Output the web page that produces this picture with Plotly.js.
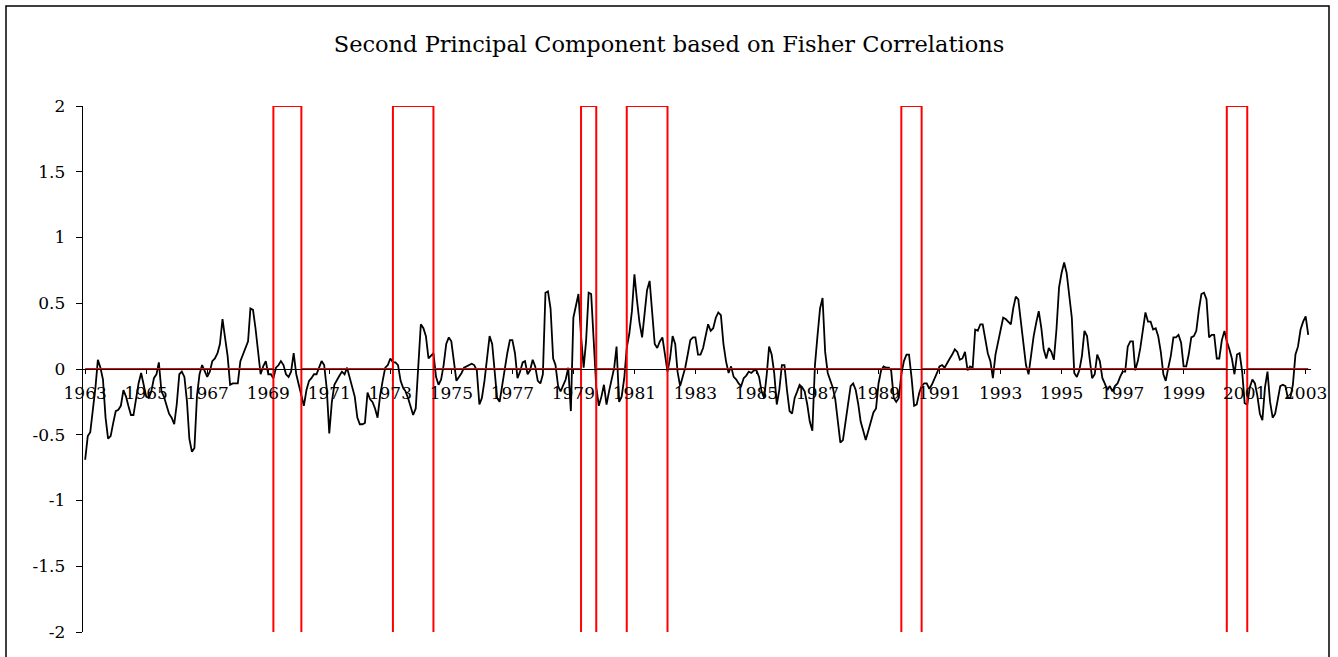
<!DOCTYPE html>
<html>
<head>
<meta charset="utf-8">
<script src="https://cdn.plot.ly/plotly-3.0.1.min.js"></script>
<style>
  html, body { margin: 0; padding: 0; background: #ffffff; }
  #chart { width: 1338px; height: 657px; }
</style>
</head>
<body>
<div id="chart"></div>
<script>
// ---------- DATA ----------
const chartTitle = "Second Principal Component based on Fisher Correlations";
const firstMonth = "1963-10";   // first monthly observation

// Second principal component, monthly values
const pc2_1963_1971 = [
  -0.69,-0.51,-0.48,-0.31,-0.14,0.07,0.01,-0.08,-0.37,-0.53,-0.51,-0.41,
  -0.32,-0.31,-0.28,-0.16,-0.21,-0.28,-0.35,-0.35,-0.22,-0.11,-0.03,-0.12,
  -0.21,-0.22,-0.17,-0.07,-0.04,0.05,-0.17,-0.21,-0.27,-0.34,-0.37,-0.42,
  -0.27,-0.04,-0.02,-0.06,-0.25,-0.53,-0.63,-0.6,-0.2,-0.04,0.03,-0.02,
  -0.06,-0.02,0.06,0.08,0.12,0.19,0.38,0.24,0.1,-0.12,-0.11,-0.11,
  -0.11,0.06,0.11,0.16,0.21,0.46,0.45,0.31,0.15,-0.04,0.02,0.06,
  -0.04,-0.04,-0.07,0.01,0.03,0.06,0.03,-0.04,-0.06,-0.02,0.12,-0.04,
  -0.12,-0.2,-0.28,-0.16,-0.09,-0.07,-0.04,-0.04,0.01,0.06,0.03,-0.15
];
const pc2_1971_1979 = [
  -0.49,-0.25,-0.12,-0.08,-0.05,-0.02,-0.04,0.01,-0.06,-0.14,-0.21,-0.37,
  -0.42,-0.42,-0.41,-0.18,-0.23,-0.25,-0.3,-0.37,-0.2,-0.09,0.01,0.03,
  0.08,0.05,0.05,0.03,-0.09,-0.14,-0.17,-0.22,-0.28,-0.35,-0.3,0.06,
  0.34,0.31,0.25,0.08,0.1,0.12,-0.06,-0.12,-0.08,0.03,0.19,0.24,
  0.21,0.06,-0.09,-0.06,-0.03,0.01,0.02,0.03,0.04,0.03,-0.01,-0.27,
  -0.22,-0.09,0.1,0.25,0.19,-0.02,-0.22,-0.25,-0.12,0.02,0.12,0.22,
  0.22,0.12,-0.07,-0.02,0.05,0.06,-0.04,-0.01,0.07,0.02,-0.09,-0.11,
  -0.04,0.58,0.59,0.46,0.08,0.03,-0.13,-0.17,-0.13,-0.08,0.01,-0.32
];
const pc2_1979_1987 = [
  0.39,0.48,0.57,0.25,0.01,0.21,0.58,0.57,0.24,-0.14,-0.28,-0.21,
  -0.12,-0.27,-0.17,-0.08,0.01,0.17,-0.25,-0.21,-0.07,0.16,0.27,0.44,
  0.72,0.52,0.35,0.24,0.41,0.6,0.67,0.41,0.19,0.16,0.21,0.24,
  0.11,-0.02,0.08,0.25,0.19,-0.02,-0.13,-0.07,0.01,0.11,0.22,0.24,
  0.24,0.11,0.11,0.16,0.26,0.34,0.29,0.31,0.39,0.43,0.41,0.19,
  0.06,-0.03,0.02,-0.06,-0.08,-0.11,-0.13,-0.07,-0.05,-0.02,-0.03,-0.01,
  -0.01,-0.06,-0.17,-0.22,-0.04,0.17,0.11,-0.03,-0.27,-0.16,0.03,0.03,
  -0.16,-0.32,-0.34,-0.22,-0.17,-0.12,-0.14,-0.17,-0.27,-0.4,-0.47,0.03
];
const pc2_1987_1995 = [
  0.25,0.46,0.54,0.13,-0.03,-0.08,-0.14,-0.23,-0.4,-0.56,-0.54,-0.4,
  -0.23,-0.13,-0.11,-0.16,-0.27,-0.4,-0.47,-0.54,-0.47,-0.4,-0.33,-0.3,
  -0.11,-0.01,0.02,0.01,0.01,-0.01,-0.22,-0.25,-0.22,-0.04,0.06,0.11,
  0.11,-0.07,-0.28,-0.27,-0.18,-0.13,-0.11,-0.11,-0.15,-0.12,-0.08,-0.03,
  0.02,0.03,0.01,0.05,0.08,0.11,0.15,0.13,0.07,0.08,0.13,-0.01,
  0.02,0.01,0.3,0.29,0.34,0.34,0.21,0.12,0.06,-0.07,0.11,0.21,
  0.31,0.39,0.38,0.36,0.34,0.46,0.55,0.53,0.35,0.21,0.03,-0.04,
  0.12,0.25,0.35,0.44,0.31,0.15,0.08,0.16,0.13,0.07,0.3,0.62
];
const pc2_1995_2003 = [
  0.73,0.81,0.73,0.58,0.39,-0.03,-0.06,-0.01,0.1,0.29,0.25,0.08,
  -0.07,-0.04,0.11,0.06,-0.07,-0.11,-0.16,-0.13,-0.17,-0.13,-0.11,-0.06,
  -0.02,-0.02,0.17,0.21,0.21,-0.01,0.06,0.16,0.31,0.43,0.36,0.36,
  0.3,0.31,0.25,0.13,-0.04,-0.09,0.01,0.1,0.24,0.24,0.26,0.2,
  0.02,0.02,0.11,0.24,0.25,0.29,0.45,0.57,0.58,0.53,0.24,0.26,
  0.26,0.08,0.08,0.22,0.29,0.21,0.15,0.08,-0.04,0.11,0.12,-0.02,
  -0.26,-0.27,-0.14,-0.08,-0.11,-0.2,-0.34,-0.39,-0.14,-0.02,-0.25,-0.37,
  -0.34,-0.23,-0.13,-0.12,-0.13,-0.22,-0.22,-0.12,0.11,0.17,0.3,0.36,
  0.4,0.26
];

// NBER recession indicator: first and last month of each recession
const recessionStart = ["1969-12","1973-11","1980-01","1981-07","1990-07","2001-03"];
const recessionEnd   = ["1970-11","1975-03","1980-07","1982-11","1991-03","2001-11"];
const recessionHigh = 2, recessionLow = -2, baseline = 0;

// y tick values
const yTicks = [-2,-1.5,-1,-0.5,0,0.5,1,1.5,2];

// ---------- BUILD ----------
const pc2 = [].concat(pc2_1963_1971, pc2_1971_1979, pc2_1979_1987, pc2_1987_1995, pc2_1995_2003);
const y0 = parseInt(firstMonth.slice(0,4)), mo0 = parseInt(firstMonth.slice(5,7)) - 1;
function monthStr(i){
  const t = y0*12 + mo0 + i;
  const y = Math.floor(t/12), m = t%12 + 1;
  return y + "-" + (m<10?"0":"") + m;
}
const dates = pc2.map((_,i)=>monthStr(i)+"-01");

// red recession line
const rx = [], ry = [];
let inRec = false;
pc2.forEach((_,i)=>{
  const ms = monthStr(i), d = ms+"-01";
  const si = recessionStart.indexOf(ms), ei = recessionEnd.indexOf(ms);
  if (si >= 0) { rx.push(d,d,d); ry.push(baseline,recessionLow,recessionHigh); inRec = true; }
  else if (ei >= 0) { rx.push(d,d,d); ry.push(recessionHigh,recessionLow,baseline); inRec = false; }
  else { rx.push(d); ry.push(inRec ? recessionHigh : baseline); }
});

const traces = [
  {x: dates, y: pc2, type: "scatter", mode: "lines",
   line: {color: "#000000", width: 1.8}, hoverinfo: "x+y", showlegend: false},
  {x: rx, y: ry, type: "scatter", mode: "lines",
   line: {color: "#ff0000", width: 2}, hoverinfo: "skip", showlegend: false}
];

// plot-area geometry (px) for the outer frame
const L = 83, R = 27, T = 106, B = 25, W = 1338, H = 657;
const pw = W - L - R, ph = H - T - B;
const px2fx = px => (px - L)/pw;
const py2fy = py => (H - B - py)/ph;

const serif = "DejaVu Serif, Liberation Serif, serif";
const layout = {
  width: W, height: H,
  margin: {l: L, r: R, t: T, b: B, pad: 0},
  paper_bgcolor: "#ffffff", plot_bgcolor: "rgba(0,0,0,0)",
  font: {family: serif, color: "#000000", size: 17},
  title: {text: chartTitle, x: 0.5, xref: "container", xanchor: "center",
          y: 1 - 44/H, yref: "container", yanchor: "middle",
          font: {family: serif, size: 22.5, color: "#000000"}},
  xaxis: {
    type: "date", range: ["1963-09-05", "2003-12-04"],
    anchor: "free", position: 0.5,
    tick0: firstMonth + "-01", dtick: "M24", tickformat: "%Y",
    ticks: "outside", ticklen: 4, tickwidth: 1, tickcolor: "#000",
    ticklabelstandoff: 5,
    showline: true, linecolor: "#000", linewidth: 1,
    showgrid: false, zeroline: false,
    tickfont: {family: serif, size: 17, color: "#000"}
  },
  yaxis: {
    range: [-2, 2], tickvals: yTicks, ticktext: yTicks.map(v=>String(v)),
    ticks: "outside", ticklen: 6, tickwidth: 1, tickcolor: "#000",
    ticklabelstandoff: 7,
    showline: true, linecolor: "#000", linewidth: 1.3,
    showgrid: false, zeroline: false,
    tickfont: {family: serif, size: 17, color: "#000"}
  },
  shapes: [{
    type: "rect", xref: "paper", yref: "paper", layer: "above",
    x0: px2fx(6), x1: px2fx(1329), y0: py2fy(700), y1: py2fy(6),
    line: {color: "#000000", width: 1.5}, fillcolor: "rgba(0,0,0,0)"
  }],
  showlegend: false
};

Plotly.newPlot("chart", traces, layout, {displayModeBar: false, staticPlot: true});
</script>
</body>
</html>
